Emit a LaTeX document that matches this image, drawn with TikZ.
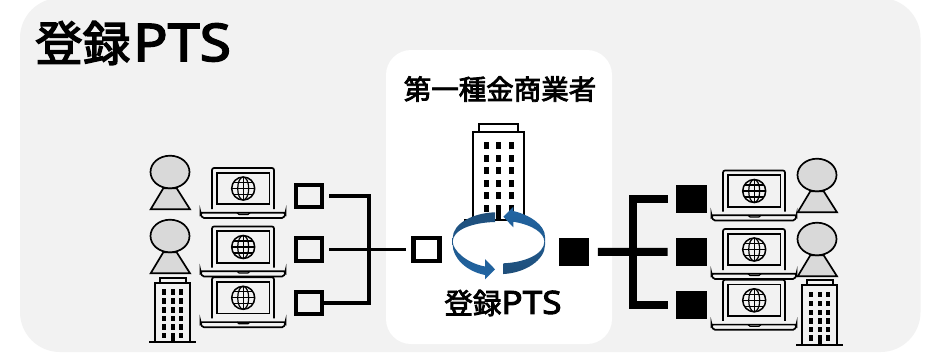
\documentclass[tikz,border=0pt]{standalone}
\usepackage{fontspec}
\setmainfont{Noto Sans CJK JP}
\newfontfamily\cjkmed{Noto Sans CJK JP}[FakeBold=3]
\newfontfamily\latinmed{Noto Sans}[FakeBold=3,FakeStretch=1.1]
\definecolor{arrowdark}{HTML}{1F4E79}
\definecolor{arrowblue}{HTML}{2166A5}
\begin{document}
\begin{tikzpicture}[x=1pt,y=-1pt,
  line/.style={draw=black,line width=1.7pt},
  openbox/.style={draw=black,line width=4.2pt,fill=none,minimum width=26pt,minimum height=22.5pt,inner sep=0pt},
  solidbox/.style={fill=black,minimum width=30.5pt,minimum height=27.5pt,inner sep=0pt},
  thinconn/.style={line width=3.6pt,line cap=butt},
  thickconn/.style={line width=8pt,line cap=butt},
  label/.style={inner sep=0pt},
  pics/laptop/.style={code={
    \draw[line,rounded corners=2pt] (0,41) -- (0,0) -- (62,0) -- (62,41);
    \draw[line] (5,4.7) rectangle (57.5,36.3);
    \draw[line,rounded corners=1.5pt] (-11.5,44.8) -- (73.5,44.8) -- (73.5,46) -- (71.5,50) -- (-9.5,50) -- (-11.5,46) -- cycle;
    \draw[line,line width=1.2pt] (25,44.8) -- (27,46.4) -- (36,46.4) -- (38,44.8);
    \draw[line,line width=1.5pt] (31.2,20.5) circle (11.5);
    \draw[line,line width=1.2pt] (31.2,20.5) ellipse (5.5 and 11.5);
    \draw[line,line width=1.2pt] (31.2,9) -- (31.2,32);
    \draw[line,line width=1.2pt] (19.7,20.5) -- (42.7,20.5);
    \draw[line,line width=1.2pt] (21.5,14.5) -- (41,14.5) (21.5,26.5) -- (41,26.5);
  }},
  pics/person/.style={code={
    \draw[line,fill=black!15] (-6.7,16.3) -- (-19.3,37.3) -- (20,37.3) -- (6.7,16.3) -- cycle;
    \draw[line,fill=black!15] (0,0) ellipse (19.5 and 16.3);
  }},
  pics/smalltower/.style={code={
    \draw[line,fill=white!95!black] (11,-5) rectangle (37,0);
    \draw[line,fill=white!95!black] (6,0) rectangle (41,59.6);
    \draw[line] (0,59.6) -- (47,59.6);
    \foreach \cx in {7,16.3,24.3} \foreach \cy in {6.5,15.5,24.5,33,41.5} \fill (\cx+6,\cy) rectangle +(4,5.5);
    \fill (13,50) rectangle +(4,5.5);
    \fill (30.3,50) rectangle +(4,5.5);
    \fill (22.2,50) rectangle +(3.6,9.6);
  }}
]
\useasboundingbox (0,0) rectangle (941,354);
\fill[white] (0,0) rectangle (941,354);
\fill[black!5,rounded corners=40pt] (20,-2) rectangle (920.5,352);
\fill[white,rounded corners=25pt] (386,50) rectangle (612,344);

% left group
\pic at (170,172) {person};
\pic at (170,236) {person};
\pic at (149,282.7) {smalltower};
\pic at (212,168) {laptop};
\pic at (212,226.5) {laptop};
\pic at (212,277.3) {laptop};

% right group
\pic at (817,175) {person};
\pic at (817,239) {person};
\pic at (796,285.3) {smalltower};
\pic at (723,170.5) {laptop};
\pic at (723,229) {laptop};
\pic at (723,279.8) {laptop};

% central tower
\draw[line,fill=white] (479,124.3) rectangle (518,132);
\draw[line,fill=white] (473,132) rectangle (524.3,220);
\draw[line] (464,220) -- (528,220);
\foreach \cx in {484,496,509} \foreach \cy in {142.3,155,167.3,180,192} \fill (\cx,\cy) rectangle +(5,7);
\fill (484,205) rectangle +(5,7);
\fill (509,205) rectangle +(5,7);
\fill (496,205) rectangle +(5,15);

% cycle arrows
\path[top color=arrowdark,bottom color=arrowblue] (495,212.3) -- (495,222)
  .. controls (472,222.5) and (452.7,230) .. (452.7,241.5)
  .. controls (452.7,250) and (466,263) .. (485,266.5)
  -- (485,259) -- (495,269.3) -- (485,279.3) -- (485,275)
  .. controls (465,271) and (452.7,257) .. (452.7,245)
  -- (452.7,238)
  .. controls (452.7,224) and (472,213) .. (495,212.3) -- cycle;
\path[top color=arrowblue,bottom color=arrowdark] (503.3,263.3) -- (503.3,274)
  .. controls (525,273) and (545,260) .. (545,245)
  -- (545,236.7)
  .. controls (545,225) and (530,215) .. (513.3,211)
  -- (513.3,206.7) -- (503.3,216.7) -- (513.3,227.3) -- (513.3,221.7)
  .. controls (533,225) and (544.3,233) .. (544.3,241.7)
  .. controls (544.3,254) and (525,262.5) .. (503.3,263.3) -- cycle;

% squares
\node[openbox] (sa) at (309,196) {};
\node[openbox] (sb) at (309,249.6) {};
\node[openbox] (sc) at (309,303) {};
\node[openbox] (sm) at (426.5,249.6) {};
\node[solidbox] (bm) at (574,252) {};
\node[solidbox] (ba) at (691.5,198.9) {};
\node[solidbox] (bb) at (691.5,251.9) {};
\node[solidbox] (bc) at (691.5,305) {};

% connectors
\coordinate (jl) at (369,249.6);
\coordinate (jr) at (632.7,251.9);
\draw[thinconn,shorten <=5pt] (sa.east) -| (jl) |- (sc.east);
\draw[thinconn,shorten <=5pt,shorten >=5pt] (sb.east) -- (sm.west);
\draw[thickconn,shorten <=8.5pt,shorten >=8.5pt] (bm.east) -- (bb.west);
\draw[thickconn,shorten <=8.5pt,shorten >=8.5pt] (ba.west) -| (jr) |- (bc.west);

% labels
\node[label,anchor=west] (title) at (35,43) {\cjkmed\fontsize{47.5}{47.5}\selectfont 登録\hspace{3pt}{\latinmed\fontsize{52}{52}\selectfont PTS}};
\node[label] (firm) at (500,89) {\cjkmed\fontsize{27.5}{27.5}\selectfont 第一種金商業者};
\node[label] (pts) at (503,303) {\cjkmed\fontsize{28.5}{28.5}\selectfont 登録{\latinmed\fontsize{32}{32}\selectfont PTS}};
\end{tikzpicture}
\end{document}
